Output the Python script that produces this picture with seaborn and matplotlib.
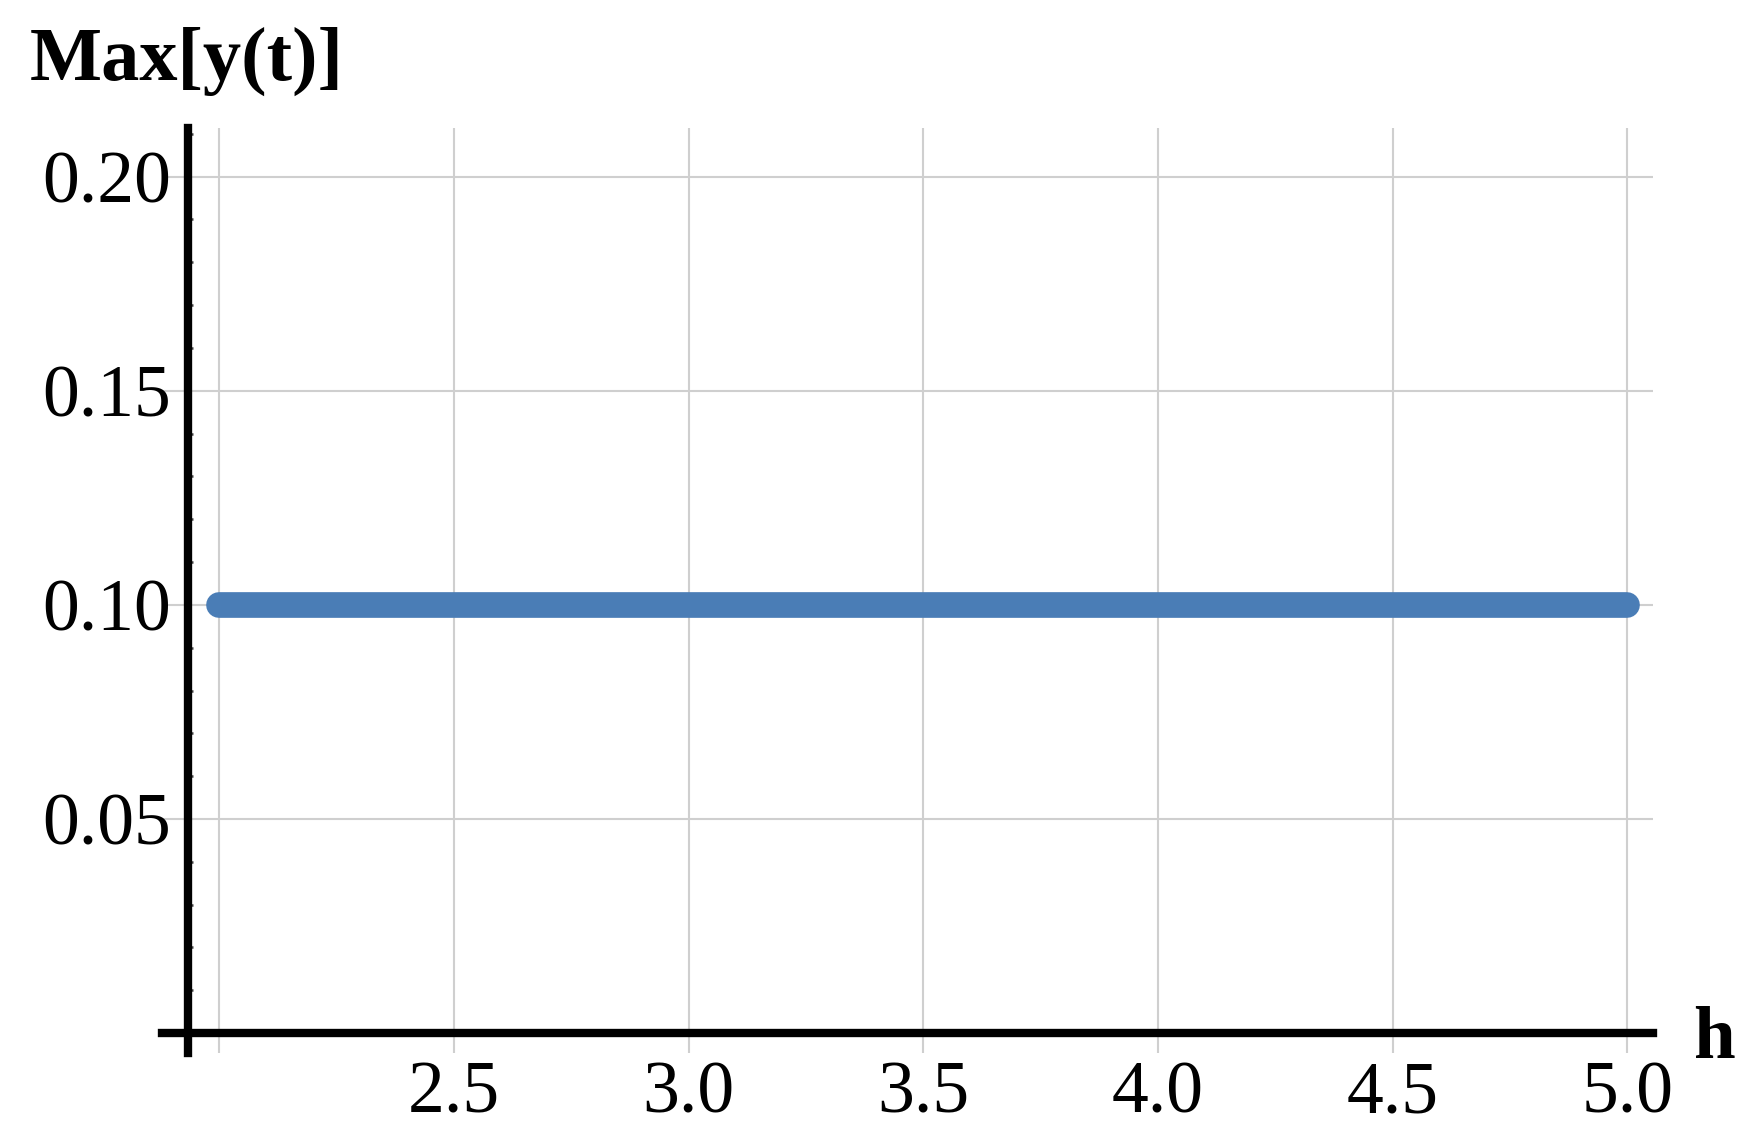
import matplotlib
matplotlib.use("Agg")
import matplotlib.pyplot as plt
from matplotlib.ticker import MultipleLocator
import pandas as pd
import seaborn as sns

# Data
h_values = [2.0, 2.5, 3.0, 3.5, 4.0, 4.5, 5.0]
max_y = [0.10, 0.10, 0.10, 0.10, 0.10, 0.10, 0.10]
x_ticks = [2.0, 2.5, 3.0, 3.5, 4.0, 4.5, 5.0]
x_tick_labels = ["", "2.5", "3.0", "3.5", "4.0", "4.5", "5.0"]
y_ticks = [0.05, 0.10, 0.15, 0.20]
y_tick_labels = ["0.05", "0.10", "0.15", "0.20"]

df = pd.DataFrame({"h": h_values, "max_y": max_y})

sns.set_style("white")
plt.rcParams["font.family"] = ["Liberation Serif", "DejaVu Serif"]
plt.rcParams["text.color"] = "black"
plt.rcParams["xtick.labelcolor"] = "black"
plt.rcParams["ytick.labelcolor"] = "black"

fig = plt.figure(figsize=(17.53, 11.41), dpi=100)
ax = fig.add_axes([0.0922, 0.0769, 0.8509, 0.8107])

# Grid
for xv in x_ticks:
    ax.axvline(xv, color="#cfcfcf", lw=1.5, zorder=0)
for yv in y_ticks:
    ax.axhline(yv, color="#cfcfcf", lw=1.5, zorder=0)

sns.lineplot(data=df, x="h", y="max_y", ax=ax, color="#4A7DB6",
             linewidth=18.5, solid_capstyle="round", zorder=3)

ax.set_xlim(1.877, 5.055)
ax.set_ylim(-0.0047, 0.2113)

# Mathematica-style axes crossing
ax.spines["left"].set_position(("data", 1.933))
ax.spines["bottom"].set_position(("data", 0.0))
ax.spines["right"].set_visible(False)
ax.spines["top"].set_visible(False)
for s in ["left", "bottom"]:
    ax.spines[s].set_linewidth(6)
    ax.spines[s].set_color("black")
    ax.spines[s].set_zorder(4)

ax.set_xticks(x_ticks)
ax.set_xticklabels(x_tick_labels)
ax.set_yticks(y_ticks)
ax.set_yticklabels(y_tick_labels)
ax.yaxis.set_minor_locator(MultipleLocator(0.01))

ax.tick_params(axis="both", which="major", direction="in", length=7, width=2.2,
               color="#555555", labelsize=53, labelcolor="black", zorder=5)
ax.tick_params(axis="y", which="minor", direction="in", length=3.5, width=1.8,
               color="#444444", left=True)
ax.tick_params(axis="x", which="major", pad=20)
ax.tick_params(axis="y", which="major", pad=12)

ax.set_xlabel("")
ax.set_ylabel("")

fig.text(30 / 1753, 1 - 80 / 1141, "Max[y(t)]", fontsize=55, fontweight="bold",
         color="black", ha="left", va="baseline")
fig.text(1693 / 1753, 1 - 1058 / 1141, "h", fontsize=54, fontweight="bold",
         color="black", ha="left", va="baseline")

fig.savefig("out.png", dpi=100)
